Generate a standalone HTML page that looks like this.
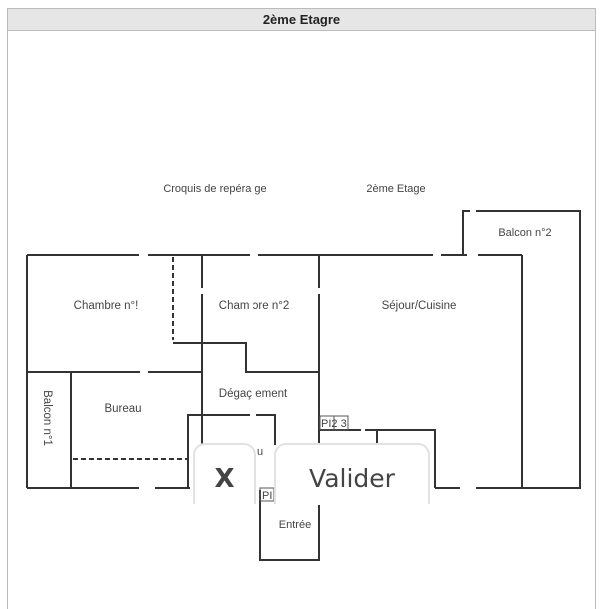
<!DOCTYPE html>
<html><head><style>
body{margin:0;width:600px;height:597px;background:#fff;overflow:hidden;position:relative;font-family:"Liberation Sans",Arial,sans-serif}
.frame{position:absolute;left:7px;top:8px;width:587px;height:600px;border:1px solid #bbb;border-bottom:none}
.hdr{height:21px;background:#e6e6e6;border-bottom:1px solid #bbb;text-align:center;font-weight:bold;font-size:13px;line-height:21px;color:#222}
.btn{position:absolute;top:443px;height:59px;background:#fff;border:2px solid #e2e2e2;border-bottom:none;border-radius:12px 12px 0 0;text-align:center;color:#444;font-family:"DejaVu Sans",sans-serif}
</style></head><body>
<div class="frame"><div class="hdr">2ème Etagre</div></div>
<svg width="600" height="597" style="position:absolute;left:0;top:0" font-family="Liberation Sans, Arial, sans-serif" font-size="12" fill="#444">
<g stroke="#333" stroke-width="2" fill="none">
<path d="M27 255H139M148 255H250M258 255H433M441 255H467M478 255H522"/>
<path d="M27 255V488M202 255V288M202 294V446M27 372H140M148 372H202"/>
<path d="M71 372V488"/>
<path d="M27 488H139M155 488H190"/>
<path d="M173 343H246V372H252M252 372H319"/>
<path d="M188 488V415H250M256 415H275V445"/>
<path d="M319 255V288M319 294V488M260 490V560H319V505"/>
<path d="M319 430H361M365 430H435V488M377 430V443"/>
<path d="M435 488H460M476 488H522V255"/>
<path d="M463 255V211H470M476 211H580V488H522"/>
</g>
<g stroke="#333" stroke-width="2" fill="none" stroke-dasharray="5,3">
<path d="M173 257V340"/>
<path d="M73 459H188"/>
</g>
<rect x="320" y="416" width="14" height="14" fill="none" stroke="#555" stroke-width="1"/>
<rect x="334" y="416" width="14" height="14" fill="none" stroke="#555" stroke-width="1"/>
<rect x="260" y="488" width="14" height="13" fill="none" stroke="#555" stroke-width="1"/>
<text x="321" y="427" font-size="11">PI2 3</text>
<text x="262" y="499" font-size="11">PI</text>
<text x="215" y="192" text-anchor="middle" font-size="11">Croquis de repéra ge</text>
<text x="396" y="192" text-anchor="middle" font-size="11">2ème Etage</text>
<text x="525" y="236" text-anchor="middle" font-size="11">Balcon n°2</text>
<text x="106" y="309" text-anchor="middle" font-size="11.5">Chambre n°!</text>
<text x="254" y="309" text-anchor="middle" font-size="11.5">Cham ɔre n°2</text>
<text x="419" y="309" text-anchor="middle" font-size="11.5">Séjour/Cuisine</text>
<text x="253" y="397" text-anchor="middle" font-size="11.5">Dégaç ement</text>
<text x="123" y="412" text-anchor="middle" font-size="11.5">Bureau</text>
<text x="257" y="455" font-size="11">u</text>
<text x="295" y="528" text-anchor="middle" font-size="11">Entrée</text>
<text transform="translate(44,418) rotate(90)" text-anchor="middle" font-size="11.5">Balcon n°1</text>
</svg>
<div class="btn" style="left:193px;width:59px;font-size:26px;font-weight:bold;line-height:68px">X</div>
<div class="btn" style="left:274px;width:152px;font-size:25px;line-height:68px">Valider</div>
</body></html>
